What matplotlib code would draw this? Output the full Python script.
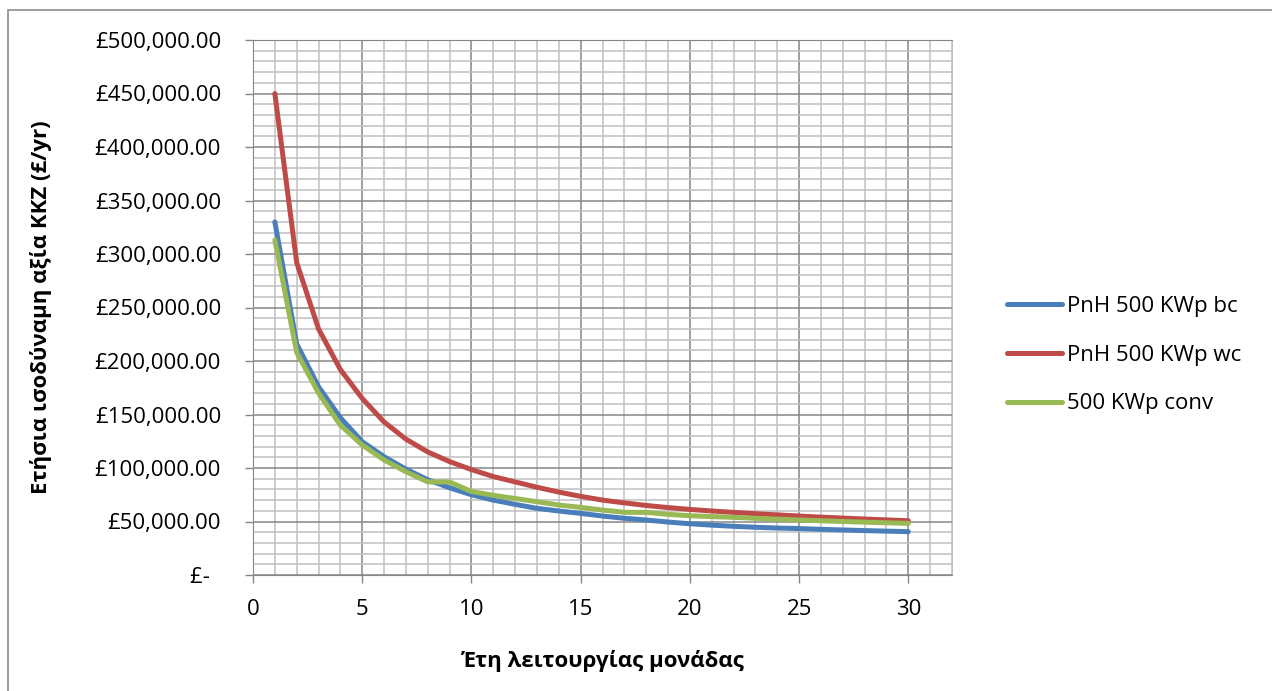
import matplotlib
matplotlib.use("Agg")
import matplotlib.pyplot as plt
from matplotlib.ticker import MultipleLocator, FuncFormatter
from matplotlib.patches import Rectangle

plt.rcParams['font.family'] = ['Open Sans', 'DejaVu Sans']

# Έτη λειτουργίας (x)
years = list(range(1, 31))

# Ετήσια ισοδύναμη αξία (£/yr), τιμές διαβασμένες από το γράφημα
pnh_bc = [330000, 216000, 176000, 147000, 124600, 110600, 99000, 89000, 81500, 75000,
          70000, 66000, 62300, 59800, 57600, 55100, 53000, 51400, 49500, 47900,
          46600, 45500, 44600, 43900, 43400, 42700, 42100, 41500, 41000, 40500]
pnh_wc = [450000, 292000, 230000, 192000, 165000, 143000, 127000, 115000, 106000, 98500,
          92000, 87000, 82000, 77500, 73500, 70000, 67400, 65000, 63000, 61300,
          59800, 58500, 57300, 56200, 55100, 54100, 53200, 52300, 51500, 50700]
conv = [313000, 208000, 170000, 140000, 121500, 107500, 96500, 87000, 87000, 78000,
        74500, 71500, 68500, 65400, 63200, 60700, 58600, 58500, 56700, 55400,
        54600, 53900, 53000, 52200, 51400, 50700, 50000, 49400, 48800, 48300]

labels = ['PnH 500 KWp bc', 'PnH 500 KWp wc', '500 KWp conv']
colors = ['#4A7EBB', '#BE4B48', '#98B954']

fig = plt.figure(figsize=(12.72, 6.91), dpi=100)
ax = fig.add_axes([253/1272, 1 - 575/691, (952 - 253)/1272, (575 - 40)/691])

for vals, lab, col in zip([pnh_bc, pnh_wc, conv], labels, colors):
    ax.plot(years, vals, color=col, lw=3.6, label=lab, solid_capstyle='round',
            solid_joinstyle='round', zorder=3)

ax.set_xlim(0, 32)
ax.set_ylim(0, 500000)
ax.xaxis.set_minor_locator(MultipleLocator(1))
ax.yaxis.set_major_locator(MultipleLocator(50000))
ax.yaxis.set_minor_locator(MultipleLocator(10000))
ax.set_xticks([0, 5, 10, 15, 20, 25, 30])

def money(v, pos):
    if v == 0:
        return '£-  '
    return '£{:,.2f}'.format(v)

ax.yaxis.set_major_formatter(FuncFormatter(money))

ax.grid(which='minor', color='#c0c0c0', lw=1.1, zorder=0)
ax.grid(which='major', color='#868686', lw=1.1, zorder=1)
ax.set_axisbelow(True)

ax.tick_params(which='major', length=6, width=1, color='#868686', labelsize=16)
ax.tick_params(axis='y', which='major', pad=17)
ax.tick_params(axis='x', which='major', pad=11)
ax.tick_params(which='minor', length=0)

for s in ['left', 'bottom', 'top']:
    ax.spines[s].set_color('#868686')
ax.spines['right'].set_color('#c0c0c0')

ax.set_xlabel('Έτη λειτουργίας μονάδας', fontsize=16, fontweight='bold', labelpad=22)
ax.set_ylabel('Ετήσια ισοδύναμη αξία ΚΚΖ (£/yr)', fontsize=16, fontweight='bold', labelpad=31)

ax.legend(loc='center left', bbox_to_anchor=(998/1272, 1 - 355/691),
          bbox_transform=fig.transFigure, frameon=False, fontsize=16,
          handlelength=2.5, handletextpad=0.2, labelspacing=1.25, borderaxespad=0)

fig.patches.append(Rectangle((8/1272, -0.1), 1.2, 1 - 10/691 + 0.1, transform=fig.transFigure,
                             fill=False, edgecolor='#8c8c8c', lw=1.2, zorder=-1))

fig.savefig('out.png', dpi=100)
